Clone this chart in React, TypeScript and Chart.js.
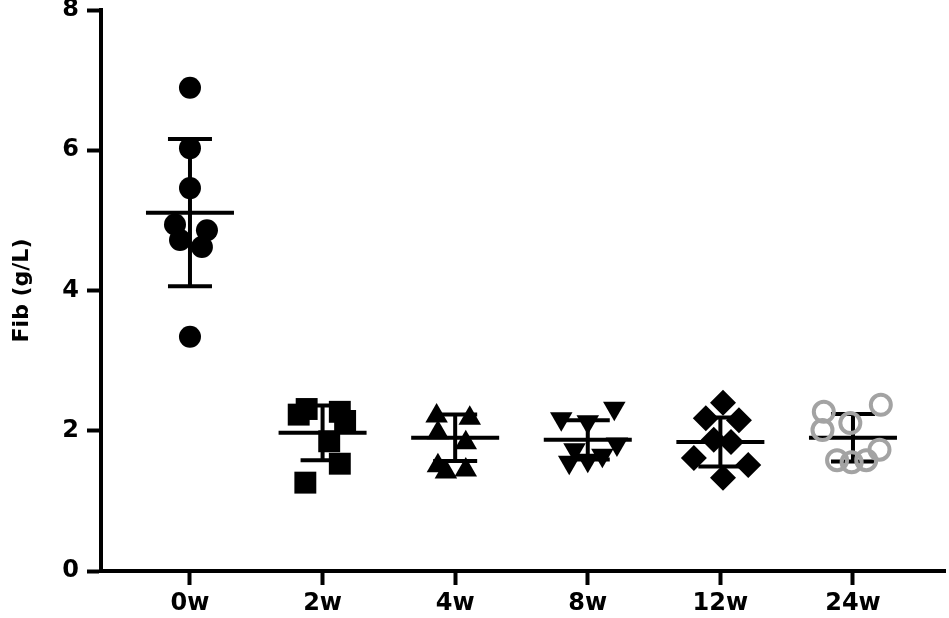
import React, { useEffect, useRef } from "react";
import { Chart, registerables } from "chart.js";

Chart.register(...registerables);

// ---- data ----
const categories = ["0w", "2w", "4w", "8w", "12w", "24w"];
const yTickValues = [0, 2, 4, 6, 8];
const yAxisTitle = "Fib (g/L)";

const values0w = [6.89, 6.03, 5.46, 4.94, 4.72, 4.86, 4.62, 3.34];
const jitter0w = [0, 0, 0, -0.113, -0.075, 0.128, 0.09, 0];

const values2w = [2.31, 2.23, 2.27, 2.14, 1.85, 1.53, 1.26];
const jitter2w = [-0.12, -0.18, 0.13, 0.17, 0.05, 0.13, -0.13];

const values4w = [2.21, 2.18, 1.97, 1.83, 1.5, 1.41, 1.44];
const jitter4w = [-0.14, 0.11, -0.13, 0.08, -0.13, -0.07, 0.08];

const values8w = [2.32, 2.17, 2.13, 1.81, 1.73, 1.58, 1.65, 1.55];
const jitter8w = [0.2, -0.2, 0, 0.22, -0.1, 0, 0.11, -0.14];

const values12w = [2.4, 2.18, 2.15, 1.87, 1.84, 1.61, 1.51, 1.33];
const jitter12w = [0.02, -0.11, 0.14, -0.05, 0.08, -0.2, 0.21, 0.02];

const values24w = [2.27, 2.01, 2.11, 2.37, 1.73, 1.58, 1.55, 1.58];
const jitter24w = [-0.22, -0.23, -0.02, 0.21, 0.2, -0.12, -0.01, 0.1];

const means = [5.11, 1.97, 1.9, 1.87, 1.84, 1.9];
const sds = [1.05, 0.39, 0.33, 0.28, 0.35, 0.34];

const FONT = "'DejaVu Sans', sans-serif";

function toPoints(catIndex: number, values: number[], jitter: number[]) {
  return values.map((v, i) => ({ x: catIndex + jitter[i], y: v }));
}

const errorBarPlugin = {
  id: "meanSd",
  beforeDatasetsDraw(chart: any) {
    const ctx = chart.ctx;
    const xs = chart.scales.x;
    const ys = chart.scales.y;
    ctx.save();
    ctx.strokeStyle = "#000";
    ctx.lineWidth = 4;
    ctx.lineCap = "butt";
    means.forEach((m, i) => {
      const x = xs.getPixelForValue(i);
      const yM = ys.getPixelForValue(m);
      const yT = ys.getPixelForValue(m + sds[i]);
      const yB = ys.getPixelForValue(m - sds[i]);
      ctx.beginPath();
      ctx.moveTo(x, yT);
      ctx.lineTo(x, yB);
      ctx.moveTo(x - 22, yT);
      ctx.lineTo(x + 22, yT);
      ctx.moveTo(x - 22, yB);
      ctx.lineTo(x + 22, yB);
      ctx.moveTo(x - 44, yM);
      ctx.lineTo(x + 44, yM);
      ctx.stroke();
    });
    ctx.restore();
  },
};

export default function App() {
  const ref = useRef<HTMLCanvasElement | null>(null);

  useEffect(() => {
    if (!ref.current) return;
    const chart = new Chart(ref.current, {
      type: "scatter",
      data: {
        datasets: [
          {
            data: toPoints(0, values0w, jitter0w),
            pointStyle: "circle",
            pointRadius: 11,
            backgroundColor: "#000",
            borderColor: "#000",
            borderWidth: 0,
          },
          {
            data: toPoints(1, values2w, jitter2w),
            pointStyle: "rect",
            pointRadius: 15.5,
            backgroundColor: "#000",
            borderColor: "#000",
            borderWidth: 0,
          },
          {
            data: toPoints(2, values4w, jitter4w),
            pointStyle: "triangle",
            pointRadius: 13,
            backgroundColor: "#000",
            borderColor: "#000",
            borderWidth: 0,
          },
          {
            data: toPoints(3, values8w, jitter8w),
            pointStyle: "triangle",
            pointRotation: 180,
            pointRadius: 13,
            backgroundColor: "#000",
            borderColor: "#000",
            borderWidth: 0,
          },
          {
            data: toPoints(4, values12w, jitter12w),
            pointStyle: "rectRot",
            pointRadius: 13,
            backgroundColor: "#000",
            borderColor: "#000",
            borderWidth: 0,
          },
          {
            data: toPoints(5, values24w, jitter24w),
            pointStyle: "circle",
            pointRadius: 10,
            backgroundColor: "rgba(0,0,0,0)",
            borderColor: "#a3a3a3",
            borderWidth: 4,
          },
        ],
      },
      options: {
        animation: false,
        responsive: false,
        devicePixelRatio: 1,
        layout: { autoPadding: false, padding: { top: 10, right: 4, left: 0, bottom: 0 } },
        plugins: {
          legend: { display: false },
          tooltip: { enabled: false },
        },
        scales: {
          x: {
            type: "linear",
            min: -0.671,
            max: 5.694,
            afterBuildTicks: (scale: any) => {
              scale.ticks = categories.map((_, i) => ({ value: i }));
            },
            afterFit: (scale: any) => {
              scale.height = 47;
              scale.paddingLeft = 0;
              scale.paddingRight = 0;
            },
            ticks: {
              autoSkip: false,
              maxRotation: 0,
              padding: 4,
              color: "#000",
              font: { family: FONT, size: 24, weight: "bold" },
              callback: (v: any) => categories[v as number] ?? "",
            },
            grid: {
              display: true,
              drawOnChartArea: false,
              drawTicks: true,
              tickLength: 14,
              tickWidth: 4,
              tickColor: "#000",
              color: "#000",
            },
            border: { display: true, width: 4, color: "#000" },
          },
          y: {
            type: "linear",
            min: 0,
            max: 8,
            afterBuildTicks: (scale: any) => {
              scale.ticks = yTickValues.map((v) => ({ value: v }));
            },
            afterFit: (scale: any) => {
              scale.width = 101;
              scale.paddingTop = 0;
              scale.paddingBottom = 0;
            },
            ticks: {
              padding: 8,
              color: "#000",
              font: { family: FONT, size: 24, weight: "bold" },
            },
            grid: {
              display: true,
              drawOnChartArea: false,
              drawTicks: true,
              tickLength: 14,
              tickWidth: 4,
              tickColor: "#000",
              color: "#000",
            },
            border: { display: true, width: 4, color: "#000" },
            title: {
              display: true,
              text: yAxisTitle,
              color: "#000",
              font: { family: FONT, size: 22, weight: "bold" },
              padding: { top: 9, bottom: 0 },
            },
          },
        },
      },
      plugins: [errorBarPlugin],
    } as any);
    return () => chart.destroy();
  }, []);

  return (
    <div style={{ position: "absolute", left: 0, top: 0, width: 949, height: 618, background: "#fff" }}>
      <canvas ref={ref} width={949} height={618} style={{ display: "block", width: 949, height: 618 }} />
    </div>
  );
}
